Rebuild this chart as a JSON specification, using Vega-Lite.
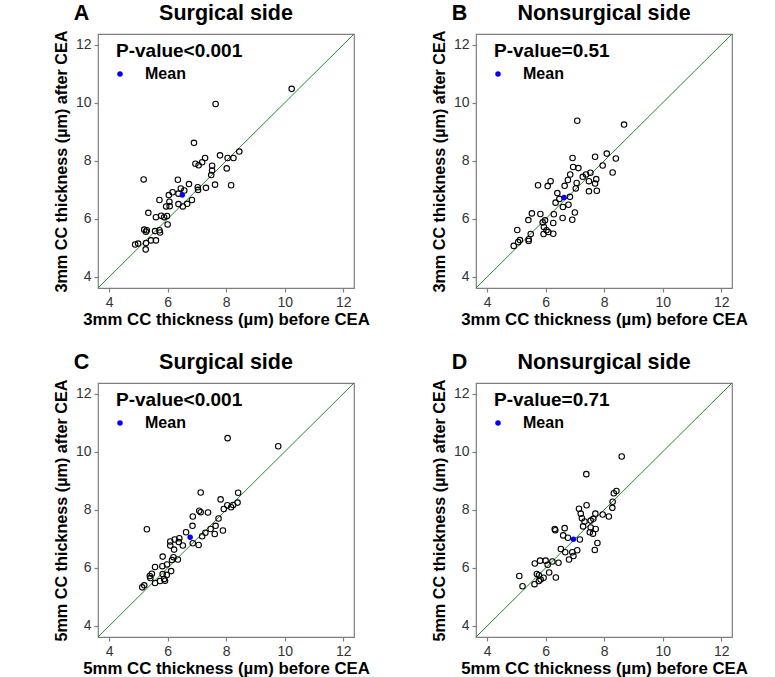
{
  "$schema": "https://vega.github.io/schema/vega-lite/v6.json",
  "padding": {"left": 52, "top": 2, "right": 5, "bottom": 0},
  "background": "white",
  "datasets": {
    "diag": [{"x": 0, "y": 0}, {"x": 20, "y": 20}],
    "A": [{"x":10.24,"y":10.48},{"x":7.64,"y":9.96},{"x":6.90,"y":8.62},{"x":8.45,"y":8.32},{"x":7.79,"y":8.19},{"x":7.28,"y":8.10},{"x":8.05,"y":8.10},{"x":8.25,"y":8.10},{"x":7.18,"y":7.95},{"x":6.95,"y":7.90},{"x":7.06,"y":7.85},{"x":7.52,"y":7.83},{"x":8.02,"y":7.74},{"x":7.52,"y":7.67},{"x":7.49,"y":7.51},{"x":5.18,"y":7.36},{"x":6.35,"y":7.35},{"x":7.62,"y":7.18},{"x":8.17,"y":7.16},{"x":6.73,"y":7.20},{"x":7.31,"y":7.07},{"x":7.03,"y":7.09},{"x":7.04,"y":7.00},{"x":6.45,"y":7.05},{"x":6.17,"y":6.92},{"x":6.04,"y":6.82},{"x":6.57,"y":6.98},{"x":6.37,"y":6.87},{"x":5.72,"y":6.65},{"x":6.06,"y":6.59},{"x":6.83,"y":6.65},{"x":6.37,"y":6.51},{"x":6.67,"y":6.52},{"x":6.52,"y":6.43},{"x":5.95,"y":6.43},{"x":6.07,"y":6.44},{"x":5.34,"y":6.21},{"x":5.78,"y":6.11},{"x":5.60,"y":6.06},{"x":5.88,"y":6.06},{"x":5.98,"y":6.10},{"x":6.00,"y":5.81},{"x":5.20,"y":5.63},{"x":5.29,"y":5.61},{"x":5.26,"y":5.56},{"x":5.57,"y":5.58},{"x":5.72,"y":5.61},{"x":5.74,"y":5.53},{"x":5.43,"y":5.26},{"x":5.60,"y":5.26},{"x":5.26,"y":5.17},{"x":4.89,"y":5.12},{"x":4.99,"y":5.15},{"x":5.25,"y":4.95}],
    "B": [{"x":7.08,"y":9.38},{"x":8.68,"y":9.25},{"x":8.09,"y":8.25},{"x":7.69,"y":8.14},{"x":8.40,"y":8.08},{"x":6.92,"y":8.10},{"x":7.95,"y":7.84},{"x":6.94,"y":7.79},{"x":7.12,"y":7.75},{"x":8.29,"y":7.60},{"x":7.53,"y":7.59},{"x":7.38,"y":7.53},{"x":7.27,"y":7.45},{"x":6.84,"y":7.53},{"x":7.73,"y":7.37},{"x":6.76,"y":7.34},{"x":7.48,"y":7.30},{"x":7.06,"y":7.24},{"x":7.69,"y":7.22},{"x":6.17,"y":7.30},{"x":6.07,"y":7.13},{"x":5.74,"y":7.16},{"x":6.65,"y":7.14},{"x":7.03,"y":7.05},{"x":7.48,"y":6.95},{"x":7.75,"y":6.97},{"x":6.40,"y":6.89},{"x":6.83,"y":6.76},{"x":6.47,"y":6.69},{"x":6.34,"y":6.56},{"x":6.78,"y":6.49},{"x":6.59,"y":6.41},{"x":7.00,"y":6.22},{"x":5.53,"y":6.19},{"x":5.82,"y":6.17},{"x":6.28,"y":6.16},{"x":6.58,"y":6.03},{"x":6.91,"y":5.97},{"x":5.41,"y":5.96},{"x":5.98,"y":5.95},{"x":5.90,"y":5.88},{"x":6.26,"y":5.86},{"x":5.94,"y":5.72},{"x":5.03,"y":5.62},{"x":6.03,"y":5.61},{"x":6.09,"y":5.55},{"x":5.93,"y":5.48},{"x":6.26,"y":5.49},{"x":5.49,"y":5.48},{"x":5.12,"y":5.27},{"x":5.42,"y":5.30},{"x":5.42,"y":5.24},{"x":5.06,"y":5.20},{"x":4.91,"y":5.07}],
    "C": [{"x":8.05,"y":10.47},{"x":9.78,"y":10.19},{"x":7.13,"y":8.60},{"x":8.41,"y":8.59},{"x":7.81,"y":8.36},{"x":8.04,"y":8.16},{"x":8.39,"y":8.25},{"x":8.24,"y":8.17},{"x":7.92,"y":8.03},{"x":7.08,"y":7.97},{"x":7.13,"y":7.92},{"x":7.38,"y":7.91},{"x":8.17,"y":8.09},{"x":6.86,"y":7.77},{"x":7.74,"y":7.70},{"x":6.85,"y":7.45},{"x":7.64,"y":7.45},{"x":7.47,"y":7.34},{"x":7.89,"y":7.29},{"x":5.29,"y":7.33},{"x":7.29,"y":7.21},{"x":7.61,"y":7.17},{"x":6.63,"y":7.23},{"x":7.18,"y":7.09},{"x":6.40,"y":7.02},{"x":6.24,"y":6.98},{"x":6.09,"y":6.91},{"x":6.86,"y":6.85},{"x":7.06,"y":6.79},{"x":6.52,"y":6.77},{"x":6.09,"y":6.77},{"x":6.38,"y":6.89},{"x":6.22,"y":6.63},{"x":5.83,"y":6.39},{"x":6.20,"y":6.37},{"x":6.35,"y":6.29},{"x":6.15,"y":6.27},{"x":5.57,"y":6.03},{"x":5.82,"y":6.06},{"x":5.98,"y":6.12},{"x":6.12,"y":5.89},{"x":5.46,"y":5.80},{"x":5.39,"y":5.72},{"x":5.41,"y":5.65},{"x":5.83,"y":5.79},{"x":5.97,"y":5.76},{"x":5.88,"y":5.62},{"x":5.74,"y":5.55},{"x":5.91,"y":5.56},{"x":5.57,"y":5.48},{"x":5.20,"y":5.40},{"x":5.13,"y":5.33}],
    "D": [{"x":8.60,"y":9.84},{"x":7.39,"y":9.23},{"x":8.42,"y":8.65},{"x":8.33,"y":8.57},{"x":8.29,"y":8.28},{"x":7.40,"y":8.16},{"x":8.28,"y":8.07},{"x":7.14,"y":8.04},{"x":7.20,"y":7.87},{"x":7.70,"y":7.87},{"x":7.95,"y":7.84},{"x":8.16,"y":7.77},{"x":7.24,"y":7.71},{"x":7.63,"y":7.69},{"x":7.54,"y":7.63},{"x":7.33,"y":7.60},{"x":6.31,"y":7.34},{"x":6.33,"y":7.30},{"x":6.65,"y":7.37},{"x":7.28,"y":7.43},{"x":7.54,"y":7.39},{"x":7.71,"y":7.34},{"x":7.51,"y":7.23},{"x":7.62,"y":7.18},{"x":6.60,"y":7.12},{"x":6.76,"y":7.04},{"x":7.17,"y":6.98},{"x":7.77,"y":6.86},{"x":7.68,"y":6.62},{"x":6.52,"y":6.65},{"x":6.67,"y":6.54},{"x":6.91,"y":6.54},{"x":7.08,"y":6.61},{"x":6.95,"y":6.41},{"x":6.80,"y":6.29},{"x":5.81,"y":6.25},{"x":5.63,"y":6.15},{"x":6.00,"y":6.25},{"x":6.23,"y":6.22},{"x":6.44,"y":6.18},{"x":6.07,"y":6.11},{"x":5.70,"y":5.79},{"x":5.77,"y":5.75},{"x":6.12,"y":5.84},{"x":6.35,"y":5.67},{"x":5.93,"y":5.66},{"x":5.83,"y":5.60},{"x":5.77,"y":5.55},{"x":5.62,"y":5.44},{"x":5.10,"y":5.72},{"x":5.21,"y":5.37}],
    "meanA": [{"x":6.50,"y":6.82,"label":"Mean"}],
    "meanB": [{"x":6.63,"y":6.74,"label":"Mean"}],
    "meanC": [{"x":6.77,"y":7.06,"label":"Mean"}],
    "meanD": [{"x":6.95,"y":6.99,"label":"Mean"}]
  },
  "columns": 2,
  "spacing": {"row": 22, "column": 60},
  "resolve": {"scale": {"color": "independent"}, "legend": {"color": "independent"}},
  "concat": [
    {
      "title": {"text": "A", "anchor": "start", "offset": 0, "dx": 21, "dy": 22},
      "vconcat": [{
        "width": 256, "height": 254,
        "title": {"text": "Surgical side", "frame": "group", "anchor": "middle", "offset": 5},
        "encoding": {
          "x": {"field": "x", "type": "quantitative", "scale": {"domain": [3.62, 12.37], "nice": false, "zero": false}, "axis": {"title": "3mm CC thickness (µm) before CEA", "values": [4, 6, 8, 10, 12]}},
          "y": {"field": "y", "type": "quantitative", "scale": {"domain": [3.62, 12.37], "nice": false, "zero": false}, "axis": {"title": "3mm CC thickness (µm) after CEA", "values": [4, 6, 8, 10, 12]}}
        },
        "layer": [
          {"data": {"name": "diag"}, "mark": {"type": "line", "color": "#228B22", "strokeWidth": 1, "clip": true}},
          {"data": {"name": "A"}, "mark": {"type": "point", "shape": "circle", "filled": false, "stroke": "black", "strokeWidth": 1.1, "size": 30, "opacity": 1}},
          {"data": {"name": "meanA"}, "mark": {"type": "point", "shape": "circle", "filled": true, "size": 30, "opacity": 1},
           "encoding": {"color": {"field": "label", "type": "nominal", "scale": {"domain": ["Mean"], "range": ["#0000FF"]}, "legend": {"title": "P-value<0.001"}}}}
        ]
      }]
    },
    {
      "title": {"text": "B", "anchor": "start", "offset": 0, "dx": 21, "dy": 22},
      "vconcat": [{
        "width": 256, "height": 254,
        "title": {"text": "Nonsurgical side", "frame": "group", "anchor": "middle", "offset": 5},
        "encoding": {
          "x": {"field": "x", "type": "quantitative", "scale": {"domain": [3.62, 12.37], "nice": false, "zero": false}, "axis": {"title": "3mm CC thickness (µm) before CEA", "values": [4, 6, 8, 10, 12]}},
          "y": {"field": "y", "type": "quantitative", "scale": {"domain": [3.62, 12.37], "nice": false, "zero": false}, "axis": {"title": "3mm CC thickness (µm) after CEA", "values": [4, 6, 8, 10, 12]}}
        },
        "layer": [
          {"data": {"name": "diag"}, "mark": {"type": "line", "color": "#228B22", "strokeWidth": 1, "clip": true}},
          {"data": {"name": "B"}, "mark": {"type": "point", "shape": "circle", "filled": false, "stroke": "black", "strokeWidth": 1.1, "size": 30, "opacity": 1}},
          {"data": {"name": "meanB"}, "mark": {"type": "point", "shape": "circle", "filled": true, "size": 30, "opacity": 1},
           "encoding": {"color": {"field": "label", "type": "nominal", "scale": {"domain": ["Mean"], "range": ["#0000FF"]}, "legend": {"title": "P-value=0.51"}}}}
        ]
      }]
    },
    {
      "title": {"text": "C", "anchor": "start", "offset": 0, "dx": 21, "dy": 22},
      "vconcat": [{
        "width": 256, "height": 254,
        "title": {"text": "Surgical side", "frame": "group", "anchor": "middle", "offset": 5},
        "encoding": {
          "x": {"field": "x", "type": "quantitative", "scale": {"domain": [3.62, 12.37], "nice": false, "zero": false}, "axis": {"title": "5mm CC thickness (µm) before CEA", "values": [4, 6, 8, 10, 12]}},
          "y": {"field": "y", "type": "quantitative", "scale": {"domain": [3.62, 12.37], "nice": false, "zero": false}, "axis": {"title": "5mm CC thickness (µm) after CEA", "values": [4, 6, 8, 10, 12]}}
        },
        "layer": [
          {"data": {"name": "diag"}, "mark": {"type": "line", "color": "#228B22", "strokeWidth": 1, "clip": true}},
          {"data": {"name": "C"}, "mark": {"type": "point", "shape": "circle", "filled": false, "stroke": "black", "strokeWidth": 1.1, "size": 30, "opacity": 1}},
          {"data": {"name": "meanC"}, "mark": {"type": "point", "shape": "circle", "filled": true, "size": 30, "opacity": 1},
           "encoding": {"color": {"field": "label", "type": "nominal", "scale": {"domain": ["Mean"], "range": ["#0000FF"]}, "legend": {"title": "P-value<0.001"}}}}
        ]
      }]
    },
    {
      "title": {"text": "D", "anchor": "start", "offset": 0, "dx": 21, "dy": 22},
      "vconcat": [{
        "width": 256, "height": 254,
        "title": {"text": "Nonsurgical side", "frame": "group", "anchor": "middle", "offset": 5},
        "encoding": {
          "x": {"field": "x", "type": "quantitative", "scale": {"domain": [3.62, 12.37], "nice": false, "zero": false}, "axis": {"title": "5mm CC thickness (µm) before CEA", "values": [4, 6, 8, 10, 12]}},
          "y": {"field": "y", "type": "quantitative", "scale": {"domain": [3.62, 12.37], "nice": false, "zero": false}, "axis": {"title": "5mm CC thickness (µm) after CEA", "values": [4, 6, 8, 10, 12]}}
        },
        "layer": [
          {"data": {"name": "diag"}, "mark": {"type": "line", "color": "#228B22", "strokeWidth": 1, "clip": true}},
          {"data": {"name": "D"}, "mark": {"type": "point", "shape": "circle", "filled": false, "stroke": "black", "strokeWidth": 1.1, "size": 30, "opacity": 1}},
          {"data": {"name": "meanD"}, "mark": {"type": "point", "shape": "circle", "filled": true, "size": 30, "opacity": 1},
           "encoding": {"color": {"field": "label", "type": "nominal", "scale": {"domain": ["Mean"], "range": ["#0000FF"]}, "legend": {"title": "P-value=0.71"}}}}
        ]
      }]
    }
  ],
  "config": {
    "font": "Liberation Sans",
    "view": {"stroke": "#7f7f7f", "strokeWidth": 1.2},
    "title": {"font": "Liberation Sans", "fontSize": 21.5, "fontWeight": "bold", "color": "black"},
    "axis": {"grid": false, "domain": false, "tickColor": "#7f7f7f", "tickSize": 4, "tickWidth": 1.2, "labelFont": "Liberation Sans", "labelFontSize": 14, "labelColor": "#333333", "labelPadding": 3, "titleFont": "Liberation Sans", "titleFontWeight": "bold", "titleColor": "black", "titlePadding": 6},
    "axisX": {"titleFontSize": 16.8, "titlePadding": 2},
    "axisY": {"titleFontSize": 16.2},
    "legend": {"orient": "none", "legendX": 18, "legendY": 8, "padding": 0, "titleFont": "Liberation Sans", "titleFontSize": 19, "titleFontWeight": "bold", "titleColor": "black", "titleLimit": 300, "titlePadding": 5, "labelFont": "Liberation Sans", "labelFontSize": 16, "labelFontWeight": "bold", "labelColor": "black", "labelOffset": 17, "symbolOffset": -4, "symbolSize": 30, "symbolType": "circle", "symbolStrokeWidth": 0}
  }
}
